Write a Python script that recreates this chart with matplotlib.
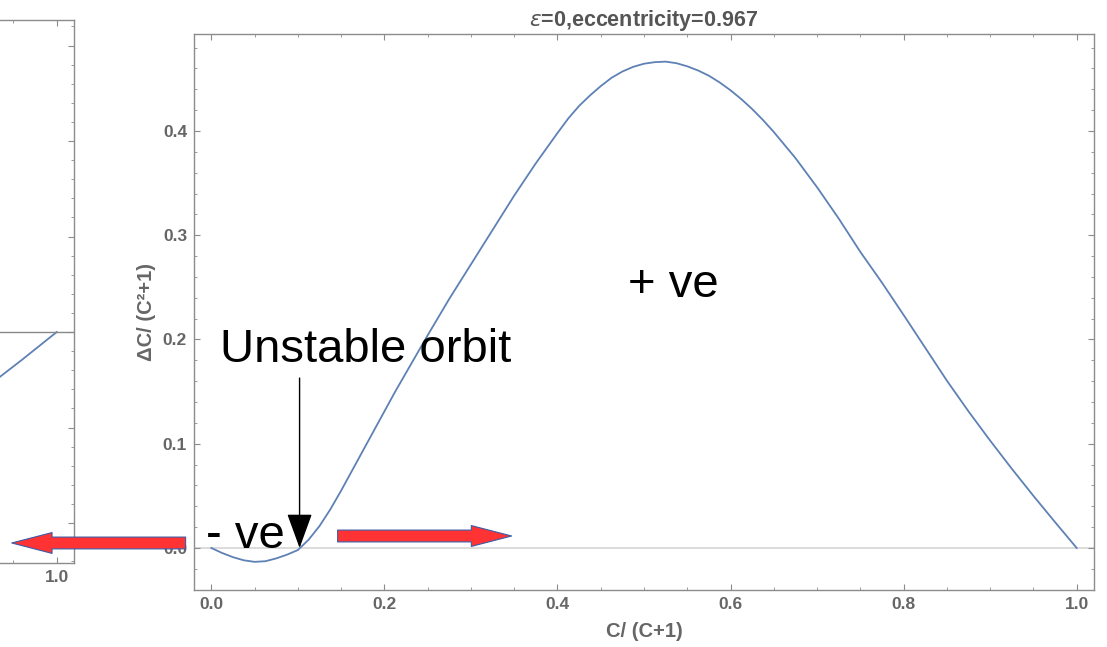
import matplotlib.pyplot as plt
from matplotlib.patches import FancyArrowPatch
from matplotlib.ticker import MultipleLocator

plt.rcParams['font.family'] = ['Liberation Sans', 'DejaVu Sans']

# main curve: C/(C+1) vs dC/(C^2+1)
ratio = [0.0, 0.0125, 0.025, 0.0375, 0.05, 0.0625, 0.075, 0.0875, 0.1, 0.1125,
         0.125, 0.1375, 0.15, 0.1625, 0.175, 0.1875, 0.2, 0.2125, 0.225,
         0.25, 0.275, 0.3, 0.325, 0.35, 0.375, 0.4, 0.4125, 0.425, 0.4375,
         0.45, 0.4625, 0.475, 0.4875, 0.5, 0.5125, 0.525, 0.5375, 0.55, 0.5625,
         0.575, 0.5875, 0.6, 0.6125, 0.625, 0.6375, 0.65, 0.675, 0.7, 0.725,
         0.75, 0.775, 0.8, 0.825, 0.85, 0.875, 0.9, 0.925, 0.95, 0.975, 1.0]
delta = [0.0, -0.0048, -0.0088, -0.0118, -0.0133, -0.0127, -0.010, -0.0064, -0.002, 0.008,
         0.021, 0.037, 0.055, 0.074, 0.093, 0.112, 0.131, 0.150, 0.168,
         0.204, 0.239, 0.272, 0.305, 0.338, 0.369, 0.398, 0.412, 0.424, 0.434,
         0.443, 0.451, 0.457, 0.4615, 0.4645, 0.466, 0.4665, 0.465, 0.462, 0.458,
         0.453, 0.4465, 0.439, 0.4305, 0.421, 0.4105, 0.399, 0.374, 0.346, 0.316,
         0.284, 0.2545, 0.2235, 0.192, 0.1605, 0.131, 0.103, 0.076, 0.050, 0.0248, 0.0]

# the cut-off panel on the left
left_x = [0.92, 0.96, 1.0]
left_y = [-0.057, -0.029, 0.0]

x_major = [0.0, 0.2, 0.4, 0.6, 0.8, 1.0]
y_major = [0.0, 0.1, 0.2, 0.3, 0.4]
left_y_major = [-0.2, -0.1, 0.0, 0.1, 0.2, 0.3]

title_text = '$\\epsilon$=0,eccentricity=0.967'
x_label = 'C/ (C+1)'
y_label = 'ΔC/ (C²+1)'

line_color = '#5e81b5'
frame_color = '#8c8c8c'
label_color = '#666666'


def style_frame(ax):
    for s in ax.spines.values():
        s.set_color(frame_color)
        s.set_linewidth(1.0)
    ax.tick_params(which='both', direction='in', top=True, right=True,
                   color=frame_color, labelcolor=label_color, labelsize=12.5, pad=5)
    ax.tick_params(which='major', length=4.5, width=0.8)
    ax.tick_params(which='minor', length=2.5, width=0.6)


fig = plt.figure(figsize=(11.07, 6.47), dpi=100)

# left panel, mostly outside the figure; only its last tick label shows
axl = fig.add_axes([-826 / 1107, 84 / 647, 900 / 1107, 543 / 647])
axl.plot(left_x, left_y, color=line_color, lw=1.3)
axl.axhline(0, color='#888888', lw=1.0)
axl.set_xlim(-0.02, 1.02)
axl.set_ylim(-0.2419, 0.3268)
axl.set_xticks(x_major, labels=['' if v < 1.0 else f'{v:.1f}' for v in x_major],
               fontweight='bold')
axl.set_yticks(left_y_major, labels=[''] * len(left_y_major))
axl.xaxis.set_minor_locator(MultipleLocator(0.05))
axl.yaxis.set_minor_locator(MultipleLocator(0.02))
style_frame(axl)

# main panel
ax = fig.add_axes([194 / 1107, 57 / 647, 900 / 1107, 556 / 647])
ax.axhline(0, color='#d9d9d9', lw=1.3, zorder=1)
ax.plot(ratio, delta, color=line_color, lw=1.3, zorder=2)
ax.set_xlim(-0.02, 1.02)
ax.set_ylim(-0.0403, 0.4930)
ax.set_xticks(x_major, labels=[f'{v:.1f}' for v in x_major], fontweight='bold')
ax.set_yticks(y_major, labels=[f'{v:.1f}' for v in y_major], fontweight='bold')
ax.xaxis.set_minor_locator(MultipleLocator(0.05))
ax.yaxis.set_minor_locator(MultipleLocator(0.02))
style_frame(ax)

ax.set_title(title_text, fontsize=15.5, fontweight='bold', color='#555555', pad=6)
ax.set_xlabel(x_label, fontsize=14.5, fontweight='bold', color=label_color, labelpad=7)
ax.set_ylabel(y_label, fontsize=14.5, fontweight='bold', color=label_color, labelpad=5)

# annotations
ax.text(0.0096, 0.178, 'Unstable orbit', fontsize=34, va='baseline', ha='left', color='black')
ax.text(0.481, 0.241, '+ ve', fontsize=34, va='baseline', ha='left', color='black')
ax.text(-0.0066, 0.0, '- ve', fontsize=34, va='baseline', ha='left', color='black')

ax.add_patch(FancyArrowPatch((0.102, 0.163), (0.102, 0.0),
                             arrowstyle='-|>,head_length=22,head_width=8',
                             mutation_scale=1, color='black', lw=1.0,
                             shrinkA=0, shrinkB=0, zorder=5))

for tail, tip, yy in [(0.146, 0.347, 0.0115), (-0.0297, -0.2306, 0.0048)]:
    ax.add_patch(FancyArrowPatch((tail, yy), (tip, yy),
                                 arrowstyle='simple,head_length=29,head_width=15,tail_width=8.5',
                                 mutation_scale=1, facecolor='#ff3333', edgecolor='#3b5ba5',
                                 lw=0.8, shrinkA=0, shrinkB=0, clip_on=False, zorder=6))

fig.savefig('out.png', dpi=100)
